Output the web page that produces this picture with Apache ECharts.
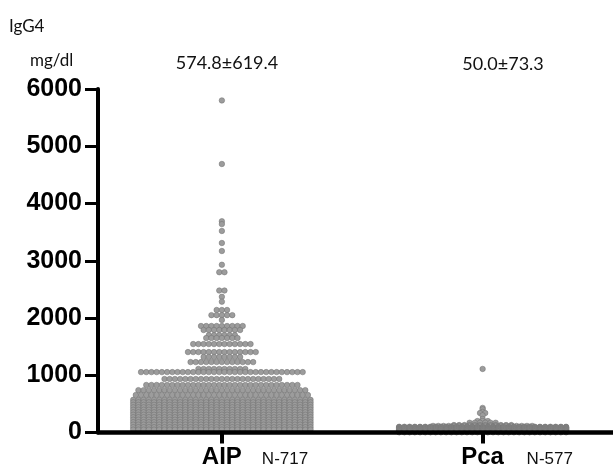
<!DOCTYPE html>
<html>
<head>
<meta charset="utf-8">
<script src="https://cdn.jsdelivr.net/npm/echarts@6/dist/echarts.min.js"></script>
<style>
  html, body { margin: 0; padding: 0; background: #fff; }
  #chart { width: 613px; height: 470px; }
</style>
</head>
<body>
<div id="chart"></div>
<script>
// ----------資料----------
// 組別
const groups = ['AIP', 'Pca'];
const groupN = ['N-717', 'N-577'];
const groupStats = ['574.8±619.4', '50.0±73.3'];
const yTicks = [0, 1000, 2000, 3000, 4000, 5000, 6000];

// AIP 每一列的數值 (mg/dl) 與點數
const aipRowValues = [
  5800, 4690, 3690, 3640, 3520, 3310, 3170, 2930, 2800, 2480, 2370, 2285,
  2140, 2050, 1965, 1860, 1790, 1700, 1650, 1545, 1405, 1320, 1230, 1110,
  1055, 935, 830, 740, 655,
  570, 527, 483, 440, 397, 353, 310, 267, 223, 180, 137, 93, 50
];
const aipRowCounts = [
  1, 1, 1, 1, 1, 1, 1, 1, 2, 2, 1, 1,
  3, 5, 1, 9, 8, 6, 7, 12, 14, 8, 13, 10,
  32, 23, 30, 33, 34,
  35, 35, 35, 35, 35, 35, 35, 35, 35, 35, 35, 35, 35
];

// Pca 每一列的數值 (mg/dl) 與點數
const pcaRowValues = [
  1110, 430, 405, 360, 340, 300, 235, 200, 170, 130, 115,
  100, 93, 87, 80, 73, 67, 60, 53, 47, 40, 33, 27, 20, 13, 8, 4
];
const pcaRowCounts = [
  1, 1, 1, 1, 2, 1, 1, 3, 6, 12, 20,
  33, 33, 33, 33, 33, 33, 33, 33, 33, 33, 33, 33, 33, 33, 33, 33
];
// ------------------------

// ----------beeswarm 排列----------
const dotStep = 0.02; // 每顆點的水平間距 (x 軸單位)

const buildSwarm = (center, values, counts) => {
  const pts = [];
  values.forEach((v, r) => {
    const n = counts[r];
    for (let i = 0; i < n; i++) {
      pts.push([center + (i - (n - 1) / 2) * dotStep, v]);
    }
  });
  return pts;
};

const swarmData = [
  ...buildSwarm(1, aipRowValues, aipRowCounts),
  ...buildSwarm(2, pcaRowValues, pcaRowCounts)
];
// ---------------------------------

const chart = echarts.init(document.getElementById('chart'));

const xMin = 0.525;
const xMax = 2.5;

chart.setOption({
  animation: false,
  backgroundColor: '#fff',
  grid: { left: 98, right: 0, top: 89, bottom: 37.5 },
  graphic: [
    { type: 'text', left: 9, top: 18, style: { text: 'IgG4', font: '17px Lato', fill: '#111' } },
    { type: 'text', left: 30, top: 52, style: { text: 'mg/dl', font: '17px Lato', fill: '#111' } },
    { type: 'text', x: 227, y: 63, style: { text: groupStats[0], font: '18px Lato', fill: '#111', align: 'center', verticalAlign: 'middle' } },
    { type: 'text', x: 503, y: 64, style: { text: groupStats[1], font: '18px Lato', fill: '#111', align: 'center', verticalAlign: 'middle' } }
  ],
  xAxis: [
    {
      type: 'value',
      min: xMin,
      max: xMax,
      position: 'bottom',
      z: 5,
      splitLine: { show: false },
      axisLine: { lineStyle: { color: '#000', width: 4.5 } },
      axisTick: { customValues: [1, 2], length: 11, lineStyle: { color: '#000', width: 4 } },
      axisLabel: {
        customValues: [1, 2],
        margin: 13,
        formatter: (v) => groups[Math.round(v) - 1],
        color: '#000',
        fontFamily: 'Liberation Sans',
        fontWeight: 'bold',
        fontSize: 24
      }
    },
    {
      type: 'value',
      min: xMin,
      max: xMax,
      position: 'bottom',
      splitLine: { show: false },
      axisLine: { show: false },
      axisTick: { show: false },
      axisLabel: {
        customValues: [1, 2],
        margin: 18,
        align: 'left',
        formatter: (v) => (Math.round(v) === 1 ? '{a|' : '{b|') + groupN[Math.round(v) - 1] + '}',
        rich: {
          a: { fontFamily: 'Liberation Sans', fontSize: 17, color: '#111', padding: [0, 0, 0, 40] },
          b: { fontFamily: 'Liberation Sans', fontSize: 17, color: '#111', padding: [0, 0, 0, 44] }
        }
      }
    }
  ],
  yAxis: {
    type: 'value',
    min: yTicks[0],
    max: yTicks[yTicks.length - 1],
    interval: 1000,
    z: 5,
    splitLine: { show: false },
    axisLine: { show: true, lineStyle: { color: '#000', width: 4 } },
    axisTick: { show: true, length: 13, lineStyle: { color: '#000', width: 3 } },
    axisLabel: {
      margin: 16,
      formatter: (v) => String(v),
      color: '#000',
      fontFamily: 'Liberation Sans',
      fontWeight: 'bold',
      fontSize: 25
    }
  },
  series: [
    {
      type: 'scatter',
      xAxisIndex: 0,
      symbol: 'circle',
      symbolSize: 5.5,
      itemStyle: { color: '#9c9c9c', borderColor: '#6e6e6e', borderWidth: 0.5, opacity: 1 },
      data: swarmData
    }
  ]
});
</script>
</body>
</html>
